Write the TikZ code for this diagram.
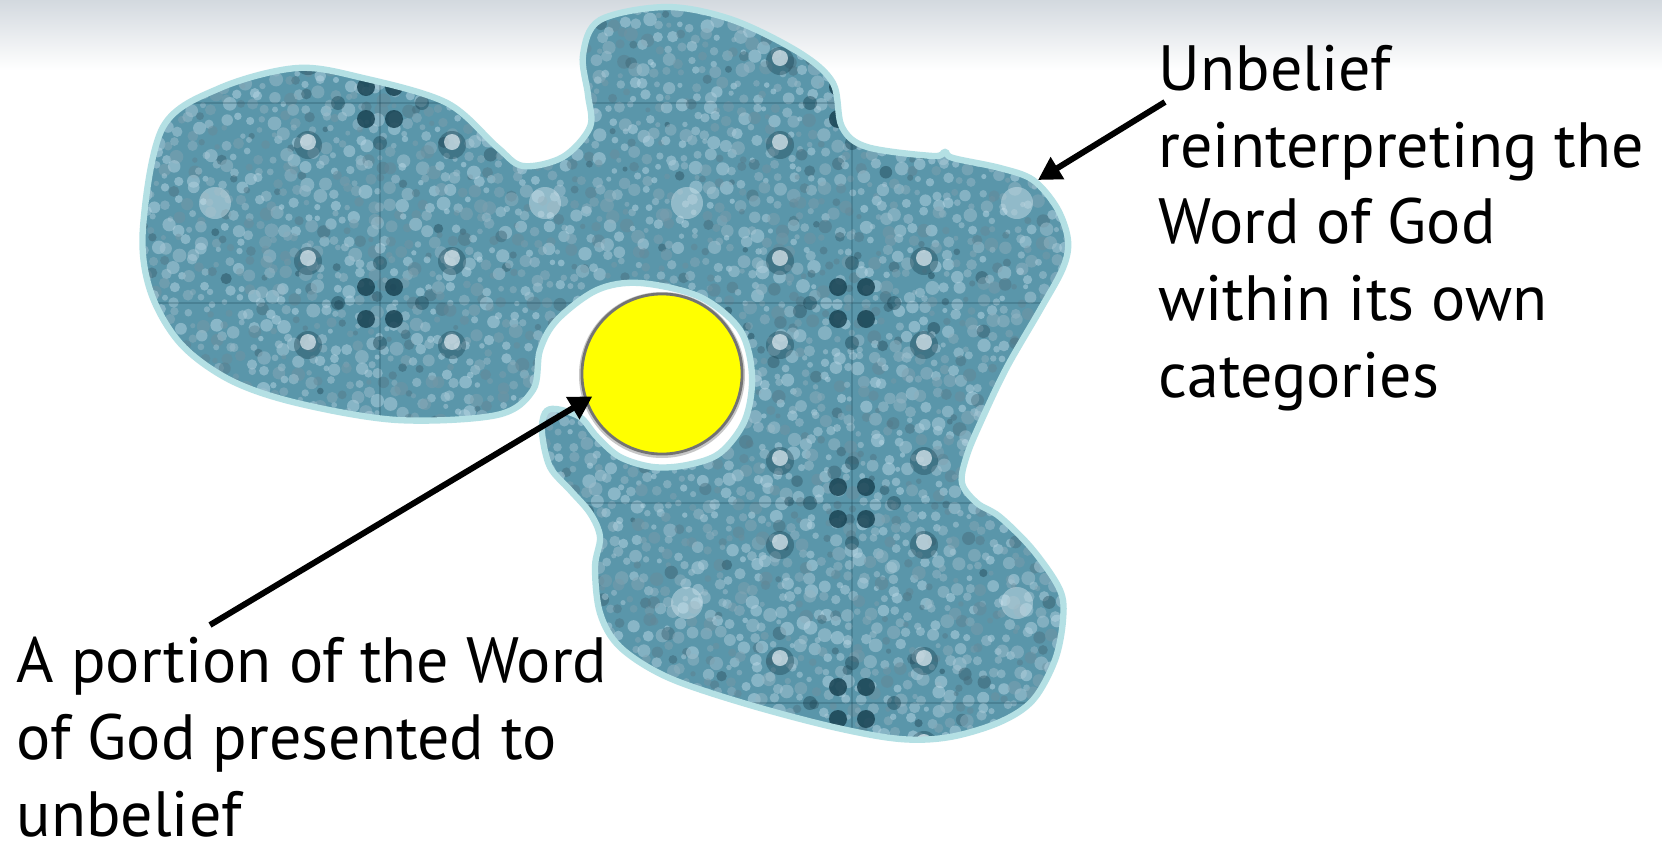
\documentclass[tikz,border=0pt]{standalone}
\usepackage{fontspec}
\setmainfont{PT Sans}
\usetikzlibrary{arrows.meta,calc}
\definecolor{gtop}{RGB}{211,217,223}
\definecolor{tealbase}{RGB}{90,150,170}
\definecolor{teallight}{RGB}{186,216,230}
\definecolor{tealdark}{RGB}{26,68,84}
\definecolor{rim}{RGB}{180,224,228}
\definecolor{sunyellow}{RGB}{255,255,0}
\tikzset{
  lbl/.style={anchor=base west, align=left, inner sep=0pt, font=\fontsize{18.2}{21.8}\selectfont, text=black},
  ptr/.style={line width=1.7pt, -{Triangle[length=6.5pt,width=7pt]}},
  rimline/.style={draw=rim, line width=1.8pt},
}
\newcommand\blobshape{plot[smooth cycle, tension=0.55] coordinates {
(297,68) (363,78) (447,103) (497,147) (523,166) (563,157) (590,127) (588,95) (583,55)
(600,20) (667,7) (733,20) (800,53) (833,83) (842,127) (867,147) (933,156) (945,152)
(953,158) (1000,168) (1033,180) (1057,208) (1068,240) (1063,268) (1040,310) (1007,367)
(983,417) (967,455) (962,483) (977,503) (1000,517) (1033,550) (1060,590) (1063,620)
(1055,660) (1033,700) (1000,722) (950,737) (900,739) (833,727) (743,703) (667,677)
(620,647) (600,613) (595,567) (600,537) (590,513) (570,490) (550,467) (542,433)
(545,413) (556,409) (580,417) (597,437) (620,457) (653,467) (687,465) (720,453)
(745,420) (752,375) (740,330) (700,297) (640,283) (597,290) (557,320) (540,350)
(533,390) (497,415) (397,420) (297,403) (230,380) (180,343) (150,290) (143,227)
(163,127) (220,88)}}
\begin{document}
\begin{tikzpicture}[x=0.01cm,y=-0.01cm]
\useasboundingbox (0,0) rectangle (1662,842);
\fill[white] (0,0) rectangle (1662,842);
\shade[top color=gtop, bottom color=white] (0,0) rectangle (1662,70);
% textured blob
\begin{scope}
  \clip \blobshape;
  \fill[tealbase] (100,0) rectangle (1100,760);
  \pgfmathsetseed{4242}
  \foreach \x in {130,142,...,1080}{
    \foreach \y in {0,12,...,750}{
      \pgfmathsetmacro\m{int(rnd*rnd*100)}
      \pgfmathsetmacro\dx{rnd*10-5}
      \pgfmathsetmacro\dy{rnd*10-5}
      \pgfmathsetmacro\rr{2.5+rnd*4.5}
      \fill[tealdark!\m!teallight, opacity=0.5] (\x+\dx,\y+\dy) circle[radius=\rr];
    }
  }
  \foreach \cy in {103,303,503,703}{
    \draw[tealdark, opacity=0.25, line width=0.3pt] (100,\cy) -- (1100,\cy);
  }
  \foreach \cx in {380,852}{
    \draw[tealdark, opacity=0.25, line width=0.3pt] (\cx,0) -- (\cx,760);
    \foreach \cy in {103,303,503,703}{
      \foreach \ox/\oy in {-14/-16,14/-16,-14/16,14/16}{
        \fill[tealdark, opacity=0.85] (\cx+\ox,\cy+\oy) circle[radius=9];
      }
      \foreach \ox/\oy in {-42/0,42/0,0/-40,0/40}{
        \fill[tealdark, opacity=0.45] (\cx+\ox,\cy+\oy) circle[radius=7];
      }
      \foreach \ox/\oy in {-72/-42,72/-42,-72/42,72/42}{
        \fill[tealdark, opacity=0.4] (\cx+\ox,\cy+\oy) circle[radius=14];
        \fill[teallight!40!white, opacity=0.7] (\cx+\ox,\cy+\oy-3) circle[radius=8];
      }
      \foreach \ox/\oy in {-165/100,165/100}{
        \fill[teallight!60!white, opacity=0.45] (\cx+\ox,\cy+\oy) circle[radius=16];
      }
    }
  }
\end{scope}
\draw[rimline] \blobshape;
% the yellow disc
\fill[black!22] (662,375) circle[radius=83];
\node[circle, minimum size=1.6cm, inner sep=0pt, outer sep=0pt, fill=sunyellow, draw=black!55, line width=0.8pt] (sun) at (662,374) {};
% labels (base = last line)
\node[lbl] (unb) at (1158,397) {Unbelief\\reinterpreting the\\Word of God\\within its own\\categories};
\node[lbl] (por) at (16,836) {A portion of the Word\\of God presented to\\unbelief};
% pointers
\coordinate (t1) at (1165,102);
\coordinate (h1) at (1038,180);
\draw[ptr] (t1) -- (h1);
\coordinate (t2) at (210,625);
\draw[ptr, shorten >=-2pt] (t2) -- (sun.199);
\end{tikzpicture}
\end{document}
